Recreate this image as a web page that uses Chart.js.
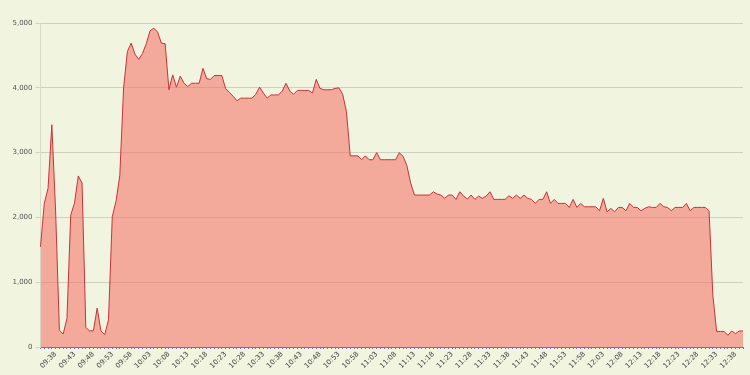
<!DOCTYPE html>
<html>
<head>
<meta charset="utf-8">
<script src="https://cdn.jsdelivr.net/npm/chart.js@4/dist/chart.umd.min.js"></script>
<style>
  html, body { margin: 0; padding: 0; background: #f1f5e0; }
  #wrap { width: 750px; height: 375px; }
</style>
</head>
<body>
<div id="wrap"><canvas id="loadChart" width="750" height="375"></canvas></div>
<script>
// one sample per minute, 09:34 .. 12:40
const startMinute = 9 * 60 + 34;
const pointCount = 187;

const tickLabels = ['09:38', '09:43', '09:48', '09:53', '09:58', '10:03', '10:08', '10:13', '10:18',
  '10:23', '10:28', '10:33', '10:38', '10:43', '10:48', '10:53', '10:58', '11:03', '11:08', '11:13',
  '11:18', '11:23', '11:28', '11:33', '11:38', '11:43', '11:48', '11:53', '11:58', '12:03', '12:08',
  '12:13', '12:18', '12:23', '12:28', '12:33', '12:38'];

const yTicks = [0, 1000, 2000, 3000, 4000, 5000];

const values = [
  1546, 2216, 2450, 3430, 2100, 260, 200, 440, 2035, 2220,
  2640, 2530, 300, 250, 250, 600, 250, 190, 420, 2010,
  2250, 2650, 4000, 4560, 4690, 4520, 4440, 4530, 4680, 4880,
  4920, 4860, 4690, 4680, 3970, 4200, 4010, 4180, 4070, 4020,
  4070, 4070, 4070, 4300, 4140, 4130, 4190, 4190, 4190, 3990,
  3930, 3870, 3800, 3840, 3840, 3840, 3840, 3900, 4010, 3920,
  3840, 3890, 3890, 3890, 3950, 4070, 3950, 3900, 3960, 3960,
  3960, 3960, 3920, 4130, 3990, 3970, 3970, 3970, 3990, 4000,
  3900, 3630, 2950, 2950, 2950, 2890, 2950, 2890, 2890, 3000,
  2890, 2890, 2890, 2890, 2890, 3000, 2940, 2800, 2530, 2345,
  2345, 2345, 2345, 2345, 2396, 2360, 2345, 2294, 2345, 2345,
  2278, 2396, 2329, 2283, 2345, 2278, 2329, 2294, 2329, 2396,
  2278, 2278, 2278, 2278, 2334, 2294, 2345, 2294, 2345, 2294,
  2278, 2216, 2278, 2278, 2396, 2216, 2278, 2216, 2216, 2216,
  2154, 2278, 2154, 2216, 2164, 2164, 2164, 2164, 2102, 2294,
  2087, 2139, 2087, 2154, 2154, 2102, 2216, 2154, 2154, 2102,
  2140, 2164, 2154, 2154, 2216, 2164, 2154, 2102, 2154, 2154,
  2154, 2216, 2102, 2154, 2154, 2154, 2154, 2102, 800, 240,
  240, 240, 180, 247, 206, 247, 247
];

function pad(n) { return (n < 10 ? '0' : '') + n; }
const minutes = [];
for (let i = 0; i < pointCount; i++) {
  const m = startMinute + i;
  minutes.push(pad(Math.floor(m / 60)) + ':' + pad(m % 60));
}

const bgPlugin = {
  id: 'bg',
  beforeDraw(chart) {
    const ctx = chart.ctx;
    ctx.save();
    ctx.fillStyle = '#f1f5e0';
    ctx.fillRect(0, 0, chart.width, chart.height);
    ctx.restore();
  }
};

var canvas = document.getElementById('loadChart');
var chart = new Chart(canvas, {
  type: 'line',
  data: {
    labels: minutes,
    datasets: [{
      data: values,
      borderColor: '#c8323a',
      borderWidth: 1,
      backgroundColor: 'rgba(247,95,85,0.5)',
      fill: 'origin',
      pointRadius: 0,
      tension: 0
    }]
  },
  options: {
    responsive: false,
    animation: false,
    layout: { padding: { top: 23, right: 2, left: 0, bottom: 0 } },
    plugins: {
      legend: { display: false },
      tooltip: { enabled: false }
    },
    scales: {
      x: {
        offset: false,
        afterFit: function(scale) { scale.height = 28; },
        border: { display: true, color: '#7b6ac4', width: 1 },
        grid: {
          drawOnChartArea: false,
          drawTicks: true,
          tickLength: 2,
          color: '#7b6ac4'
        },
        ticks: {
          autoSkip: false,
          maxRotation: 45,
          minRotation: 45,
          padding: 1,
          color: '#444',
          font: { family: 'DejaVu Sans', size: 7 },
          callback: function(v, i) {
            const l = minutes[i];
            return tickLabels.indexOf(l) >= 0 ? l : '';
          }
        }
      },
      y: {
        min: 0,
        max: 5000,
        afterFit: function(scale) { scale.width = 40.5; },
        afterBuildTicks: function(scale) {
          scale.ticks = yTicks.map(function(v) { return { value: v }; });
        },
        border: { display: true, color: '#d8dccb' },
        grid: { color: '#cfd2c2', tickLength: 5 },
        ticks: {
          color: '#555',
          padding: 3,
          font: { family: 'DejaVu Sans', size: 7 },
          callback: function(v) { return v.toLocaleString('en-US'); }
        }
      }
    }
  },
  plugins: [bgPlugin]
});
</script>
</body>
</html>
